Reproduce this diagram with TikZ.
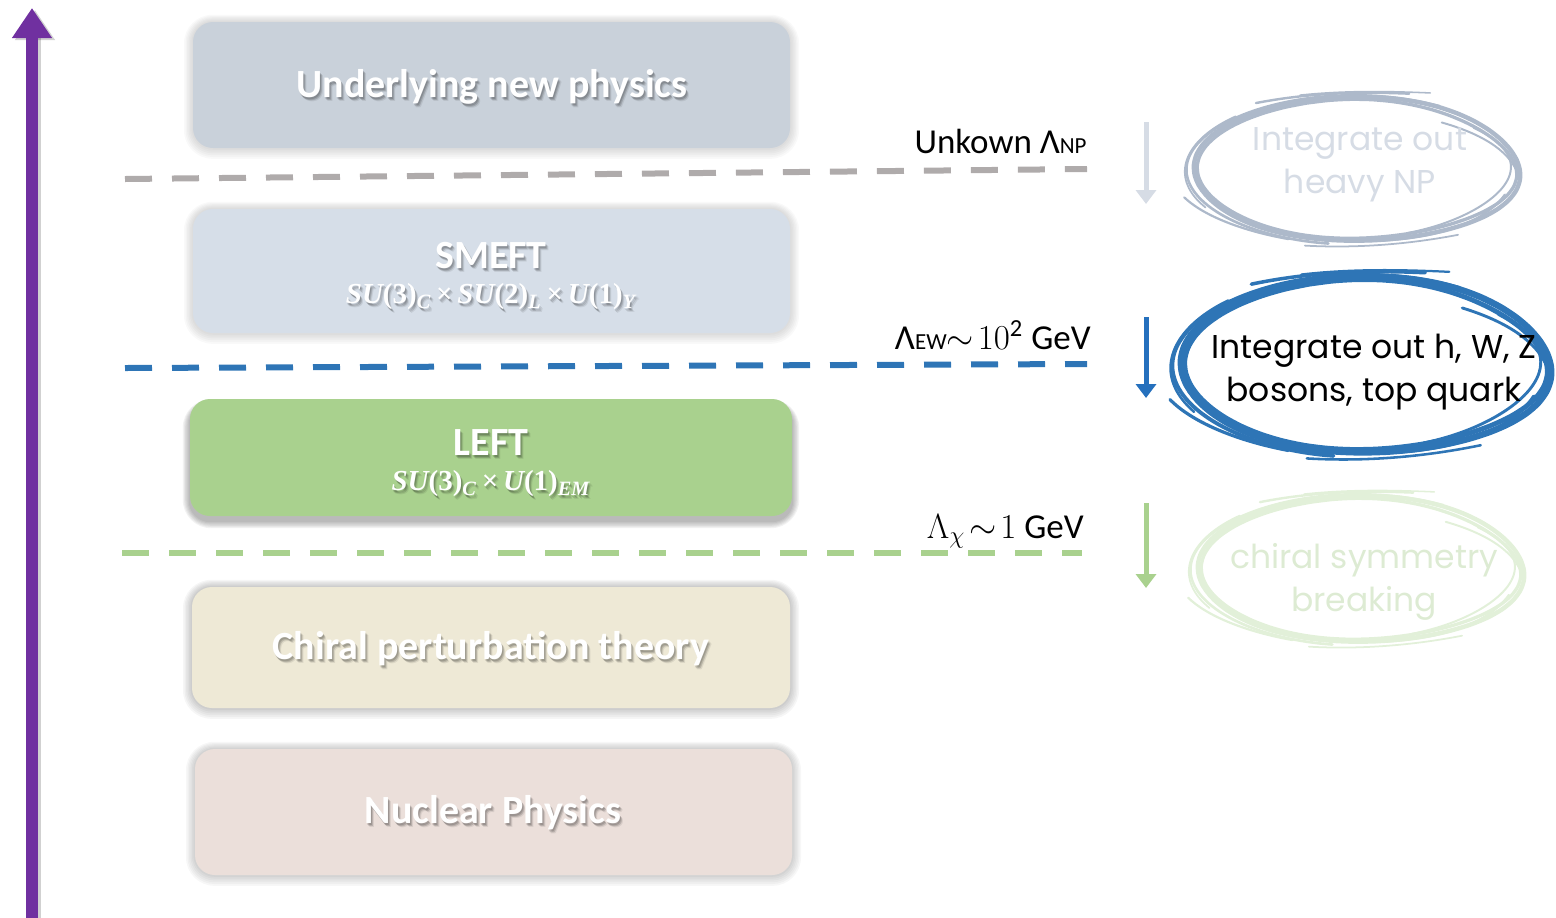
\RequirePackage{fix-cm}
\documentclass[tikz,border=0pt]{standalone}
\usepackage{fontspec}
\setmainfont{Carlito}
\newfontfamily\handfont{Poppins}
\newfontfamily\groupfont{Liberation Serif}
\usetikzlibrary{arrows.meta}

\definecolor{axispurple}{HTML}{7030A0}
\definecolor{npfill}{HTML}{C9D1DA}
\definecolor{smeftfill}{HTML}{D6DEE8}
\definecolor{leftfill}{HTML}{A9D18E}
\definecolor{chptfill}{HTML}{EEE9D6}
\definecolor{nucfill}{HTML}{EBDFDA}
\definecolor{dashgray}{HTML}{AFABAB}
\definecolor{dashblue}{HTML}{2E75B6}
\definecolor{dashgreen}{HTML}{A9D18E}
\definecolor{arrowgray}{HTML}{D6DCE5}
\definecolor{arrowblue}{HTML}{2570BD}
\definecolor{ringgray}{HTML}{ADB9CA}
\definecolor{ringgreen}{HTML}{E2F0D9}
\definecolor{handgray}{HTML}{D6DCE5}
\definecolor{handgreen}{HTML}{DDEBD3}

% italic group letters
\newcommand\gl[1]{{\itshape #1}}
\newcommand\gs[1]{\textsubscript{\itshape #1}}
\newcommand\gx{\,×\,}

% rounded layer box with a soft halo around it
% #1 name, #2 cx, #3 cy, #4 width, #5 height, #6 fill, #7 halo opacity
\newcommand\layerbox[7]{%
  \foreach \g in {1,...,6}{%
    \fill[black, opacity=#7, rounded corners={10pt+\g*0.7pt}]
      ({#2-#4/2-\g*1.5},{#3-#5/2-\g*1.2}) rectangle ({#2+#4/2+\g*1.5},{#3+#5/2+\g*1.8});
  }
  \node[layer, fill=#6, minimum width={#4*0.5pt}, minimum height={#5*0.5pt}] (#1) at (#2,#3) {};
}

% white text with a soft dark drop shadow
% #1 name, #2 x, #3 y, #4 style, #5 content
\newcommand\shadowtext[5]{%
  \foreach \dx/\dy/\op in {1/2/0.15,2/3/0.15,3/4/0.08}{%
    \node[#4, text=black, text opacity=\op] at ({#2+\dx},{#3+\dy}) {#5};
  }
  \node[#4] (#1) at (#2,#3) {#5};
}

% hand-drawn ring: overlapping strokes on a unit circle, scaled to rx, ry
% #1 cx, #2 cy, #3 rx, #4 ry, #5 colour, #6 base line width
\newcommand\scribble[6]{%
  \begin{scope}[shift={(#1,#2)}, xscale=#3, yscale=#4, #5, line cap=round]
    \foreach \ph/\am/\dr/\st/\en/\lw in {
        0/0.018/0/-200/165/1.0,
        40/0.022/-0.035/-110/250/0.75,
        80/0.012/0.035/100/300/0.6,
        130/0.018/-0.07/-40/70/0.45,
        200/0.012/0.06/150/225/0.4,
        250/0.018/-0.02/20/140/0.5}{%
      \draw[line width=#6*\lw]
        plot[smooth, samples=45, domain=\st:\en, variable=\t]
        ({(1+\dr)*cos(\t)+\am*sin(3*\t+\ph)},
         {(1+\dr)*sin(\t)+\am*cos(2*\t+\ph)});
    }
    % loose ends of the strokes
    \draw[line width=#6*0.55] (-0.62,-0.93) .. controls (-0.3,-1.07) and (0,-1.09) .. (0.32,-1.06);
    \draw[line width=#6*0.35] (-0.35,-1.04) .. controls (-0.1,-1.1) and (0.15,-1.1) .. (0.45,-1.07);
    \draw[line width=#6*0.5] (-1.06,0.38) .. controls (-0.95,0.62) and (-0.72,0.84) .. (-0.42,0.96);
    \draw[line width=#6*0.45] (0.52,-0.66) .. controls (0.8,-0.48) and (0.95,-0.22) .. (0.99,0.08);
    \draw[line width=#6*0.4] (-0.32,1.05) .. controls (0,1.09) and (0.32,1.03) .. (0.62,0.9);
  \end{scope}
}

\begin{document}
\begin{tikzpicture}[x=0.5pt,y=-0.5pt,
  layer/.style={rounded corners=10pt, inner sep=0pt, draw=none},
  boxtext/.style={font=\fontsize{20}{23}\selectfont\bfseries, text=white, align=center, inner sep=0pt},
  mathline/.style={font=\groupfont\bfseries\fontsize{14.5}{16}\selectfont, text=white, inner sep=0pt},
  scalelabel/.style={font=\fontsize{17.5}{20}\selectfont, anchor=base east, inner sep=0pt},
  dashline/.style={line width=3pt, dash pattern=on 13.5pt off 10pt},
  downarrow/.style={line width=2.5pt, -{Triangle[width=10pt,length=7pt]}},
  handtext/.style={font=\handfont\fontsize{16.5}{21.5}\selectfont, align=center, inner sep=0pt},
]
\useasboundingbox (0,0) rectangle (1556,917);

% energy axis
\coordinate (axisBot) at (32,925);
\coordinate (axisTop) at (32,8);
\draw[black, opacity=0.18, line width=6pt, -{Triangle[width=19pt,length=15pt]}]
  ([xshift=1.5pt,yshift=-1pt]axisBot) -- ([xshift=1.5pt,yshift=-1pt]axisTop);
\draw[axispurple, line width=6pt, -{Triangle[width=19pt,length=15pt]}] (axisBot) -- (axisTop);

% effective theory layers
\layerbox{np}{491.5}{85}{597}{126}{npfill}{0.025}
\layerbox{smeft}{491.5}{271}{597}{124}{smeftfill}{0.025}
\foreach \g in {1,...,6}{%
  \fill[black, opacity=0.05, rounded corners={10pt+\g*0.7pt}]
    ({190-\g*1.2},{399+5-\g*0.8}) rectangle ({792+\g*1.2},{516+5+\g*1.2});
}
\node[layer, fill=leftfill, minimum width=301pt, minimum height=58.5pt] (left) at (491,457.5) {};
\layerbox{chpt}{491}{647.5}{598}{121}{chptfill}{0.035}
\layerbox{nuc}{493.5}{812}{597}{126}{nucfill}{0.03}

\shadowtext{npT}{492}{87}{boxtext}{Underlying new physics}
\shadowtext{smeftT}{491}{256}{boxtext}{SMEFT}
\shadowtext{smeftM}{491}{297}{mathline}{\gl{SU}(3)\gs{C}\gx\gl{SU}(2)\gs{L}\gx\gl{U}(1)\gs{Y}}
\shadowtext{leftT}{491}{443}{boxtext}{LEFT}
\shadowtext{leftM}{491}{484}{mathline}{\gl{SU}(3)\gs{C}\gx\gl{U}(1)\gs{EM}}
\shadowtext{chptT}{491}{649}{boxtext}{Chiral perturbation theory}
\shadowtext{nucT}{493}{813}{boxtext}{Nuclear Physics}

% matching scales
\coordinate (gA) at (125,179);
\coordinate (gB) at (1087,169);
\coordinate (bA) at (125,368);
\coordinate (bB) at (1087,364);
\coordinate (eA) at (122,553);
\coordinate (eB) at (1082,553);
\draw[dashline, dashgray] (gA) -- (gB);
\draw[dashline, dashblue] (bA) -- (bB);
\draw[dashline, dashgreen] (eA) -- (eB);

\node[scalelabel] (lNP) at (1087,153) {Unkown Λ{\fontsize{11.5}{13}\selectfont NP}};
\node[scalelabel] (lEW) at (1091,349) {Λ{\fontsize{11.5}{13}\selectfont EW}$\sim\!10$\textsuperscript{2} GeV};
\node[scalelabel] (lChi) at (1084,538) {$\Lambda_\chi\!\sim\!1$ GeV};

% integrating out
\coordinate (gTop) at (1146,122);
\coordinate (gBot) at (1146,204);
\coordinate (bTop) at (1146,317);
\coordinate (bBot) at (1146,398);
\coordinate (eTop) at (1146,503);
\coordinate (eBot) at (1146,588);
\draw[downarrow, arrowgray] (gTop) -- (gBot);
\draw[downarrow, arrowblue] (bTop) -- (bBot);
\draw[downarrow, dashgreen] (eTop) -- (eBot);

\scribble{1357}{170}{163}{72}{ringgray}{2.2pt}
\scribble{1366}{366}{185}{88}{dashblue}{3.2pt}
\scribble{1361}{570}{163}{73}{ringgreen}{2.2pt}

\node[handtext, text=handgray] (hNP) at (1360,165) {Integrate out\\heavy NP};
\node[handtext, text=black] (hEW) at (1374,372) {Integrate out h, W, Z\\bosons, top quark};
\node[handtext, text=handgreen] (hChi) at (1364,582) {chiral symmetry\\breaking};
\end{tikzpicture}
\end{document}
